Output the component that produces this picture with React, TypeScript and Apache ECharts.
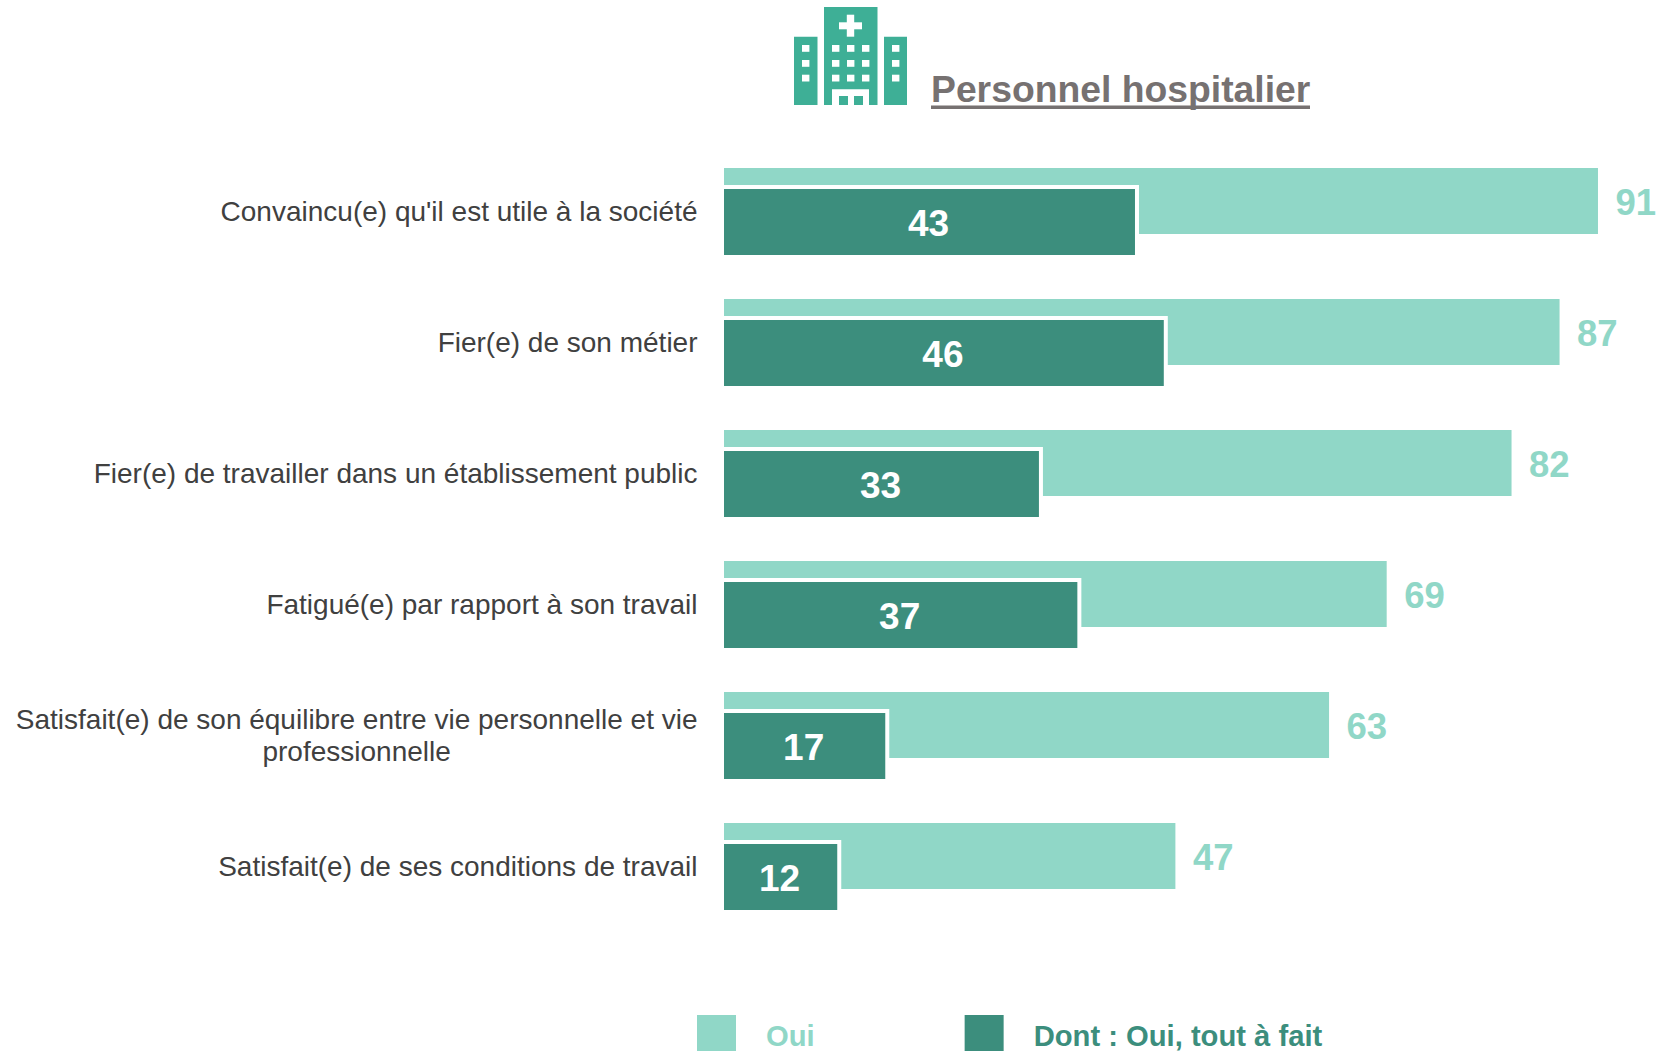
import React, { useEffect, useRef } from "react";
import * as echarts from "echarts";

const categories = [
  "Convaincu(e) qu'il est utile à la société",
  "Fier(e) de son métier",
  "Fier(e) de travailler dans un établissement public",
  "Fatigué(e) par rapport à son travail",
  "Satisfait(e) de son équilibre entre vie personnelle et vie\nprofessionnelle",
  "Satisfait(e) de ses conditions de travail",
];
const ouiValues = [91, 87, 82, 69, 63, 47];
const toutAFaitValues = [43, 46, 33, 37, 17, 12];
const seriesNames = ["Oui", "Dont : Oui, tout à fait"];
const titleText = "Personnel hospitalier";

const LIGHT = "#90D7C7";
const DARK = "#3C8E7D";
const ICON = "#3EAF96";
const FONT = "'Liberation Sans', Arial, sans-serif";

const iconRects: [number, number, number, number, string][] = [
  [794, 36.7, 23.5, 68.3, ICON],
  [824, 7, 53.5, 98, ICON],
  [884, 36.7, 23, 68.3, ICON],
  [846.8, 14.7, 7.4, 22, "#fff"],
  [839, 22.3, 23, 7, "#fff"],
  ...[45, 60, 74.7].flatMap((y) =>
    [802, 832, 847, 862, 892].map((x) => [x, y, 7.4, 6.8, "#fff"] as [number, number, number, number, string])
  ),
  [832, 89.3, 37, 15.7, "#fff"],
  [839, 96, 9, 9, ICON],
  [854, 96, 9, 9, ICON],
];

export default function App() {
  const ref = useRef<HTMLDivElement>(null);
  useEffect(() => {
    document.body.style.margin = "0";
    const chart = echarts.init(ref.current!, null, { renderer: "svg" });
    const legendToken = { fontFamily: FONT, fontSize: 29.2, fontWeight: "bold", padding: [5, 0, 0, 25] };
    chart.setOption({
      animation: false,
      backgroundColor: "#fff",
      title: {
        text: titleText,
        left: 931,
        top: 70,
        padding: 0,
        textStyle: { fontFamily: FONT, fontSize: 37.3, fontWeight: "bold", color: "#767171" },
      },
      legend: {
        left: 697,
        top: 1015,
        padding: 0,
        itemWidth: 39,
        itemHeight: 36,
        itemGap: 150,
        icon: "rect",
        selectedMode: false,
        itemStyle: { borderWidth: 0 },
        data: seriesNames,
        formatter: (name: string) => `{${name === seriesNames[0] ? "a" : "b"}|${name}}`,
        textStyle: {
          fontFamily: FONT,
          fontSize: 29.2,
          fontWeight: "bold",
          rich: {
            a: { ...legendToken, color: LIGHT },
            b: { ...legendToken, color: DARK },
          },
        },
      },
      grid: { left: 724, top: 147, width: 912.4, height: 786, containLabel: false },
      xAxis: { type: "value", min: 0, max: 95, show: false },
      yAxis: {
        type: "category",
        inverse: true,
        data: categories,
        axisLine: { show: false },
        axisTick: { show: false },
        axisLabel: {
          margin: 26.5,
          padding: [0, 0, 2, 0],
          fontFamily: FONT,
          fontSize: 28,
          lineHeight: 32,
          color: "#404040",
          formatter: (v: string) => v.split("\n").map((l) => `{c|${l}}`).join("\n"),
          rich: { c: { align: "center", fontFamily: FONT, fontSize: 28, lineHeight: 32, color: "#404040" } },
        },
      },
      series: [
        {
          name: seriesNames[0],
          type: "bar",
          data: ouiValues,
          barWidth: 66,
          barGap: "-71.2%",
          itemStyle: { color: LIGHT },
          label: {
            show: true,
            position: "right",
            distance: 17,
            offset: [0.5, 2],
            color: LIGHT,
            fontFamily: FONT,
            fontSize: 36.5,
            fontWeight: "bold",
          },
        },
        {
          name: seriesNames[1],
          type: "bar",
          data: toutAFaitValues,
          barWidth: 70,
          itemStyle: { color: DARK },
          label: {
            show: true,
            position: "inside",
            offset: [-2, 1.5],
            color: "#fff",
            fontFamily: FONT,
            fontSize: 37,
            fontWeight: "bold",
          },
        },
        {
          name: "Contour",
          type: "custom",
          silent: true,
          clip: false,
          z: 5,
          data: toutAFaitValues.map((v, i) => [v, i]),
          encode: { x: 0, y: 1 },
          renderItem: (_p: any, api: any) => {
            const end = api.coord([api.value(0), api.value(1)]);
            const start = api.coord([0, api.value(1)]);
            return {
              type: "rect",
              shape: { x: start[0] - 2, y: end[1] - 25.5, width: end[0] - start[0] + 2, height: 70 },
              style: { fill: "none", stroke: "#fff", lineWidth: 4 },
            };
          },
        },
      ],
      graphic: [
        ...iconRects.map(([x, y, width, height, fill]) => ({
          type: "rect",
          silent: true,
          shape: { x, y, width, height },
          style: { fill },
        })),
        { type: "rect", silent: true, shape: { x: 931, y: 105.5, width: 379, height: 3.5 }, style: { fill: "#767171" } },
      ],
    });
    return () => chart.dispose();
  }, []);
  return <div ref={ref} style={{ width: 1662, height: 1051 }} />;
}
